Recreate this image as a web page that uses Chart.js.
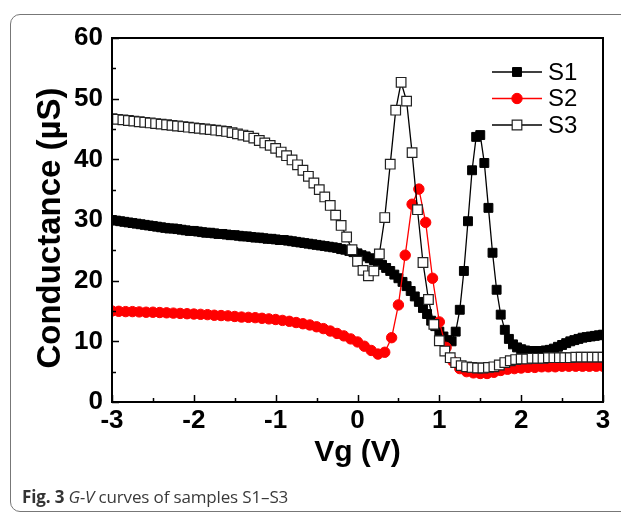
<!DOCTYPE html>
<html>
<head>
<meta charset="utf-8">
<title>G-V curves</title>
<script src="https://cdn.jsdelivr.net/npm/chart.js@4.4.1/dist/chart.umd.min.js"></script>
<style>
  html, body { margin: 0; padding: 0; background: #fff; }
  body { width: 621px; height: 515px; position: relative; overflow: hidden; }
  #frame {
    position: absolute; left: 10px; top: 14px; width: 700px; height: 498px;
    border: 1px solid #777; border-radius: 10px; box-sizing: border-box;
  }
  #chart { position: absolute; left: 0; top: 0; }
  #caption {
    position: absolute; left: 22px; top: 485px; white-space: nowrap;
    font-family: "Open Sans", "Noto Sans", sans-serif; font-size: 17px;
    letter-spacing: -0.15px; color: #3a3a3a;
  }
  #caption b { color: #333; }
</style>
</head>
<body>
<div id="frame"></div>
<canvas id="chart" width="621" height="515"></canvas>
<div id="caption"><b>Fig. 3</b> <i>G-V</i> curves of samples S1–S3</div>

<script>
// Gate voltage sweeps (V) and conductance (µS)
const vgS1 = [-3, -2.95, -2.9, -2.85, -2.8, -2.75, -2.7, -2.65, -2.6, -2.55,
  -2.5, -2.45, -2.4, -2.35, -2.3, -2.25, -2.2, -2.15, -2.1, -2.05,
  -2, -1.95, -1.9, -1.85, -1.8, -1.75, -1.7, -1.65, -1.6, -1.55,
  -1.5, -1.45, -1.4, -1.35, -1.3, -1.25, -1.2, -1.15, -1.1, -1.05,
  -1, -0.95, -0.9, -0.85, -0.8, -0.75, -0.7, -0.65, -0.6, -0.55,
  -0.5, -0.45, -0.4, -0.35, -0.3, -0.25, -0.2, -0.15, -0.1, -0.05,
  0, 0.05, 0.1, 0.15, 0.2, 0.25, 0.3, 0.35, 0.4, 0.45,
  0.5, 0.55, 0.6, 0.65, 0.7, 0.75, 0.8, 0.85, 0.9, 0.95,
  1, 1.05, 1.1, 1.15, 1.2, 1.25, 1.3, 1.35, 1.4, 1.45,
  1.5, 1.55, 1.6, 1.65, 1.7, 1.75, 1.8, 1.85, 1.9, 1.95,
  2, 2.05, 2.1, 2.15, 2.2, 2.25, 2.3, 2.35, 2.4, 2.45,
  2.5, 2.55, 2.6, 2.65, 2.7, 2.75, 2.8, 2.85, 2.9, 2.95,
  3];
const gS1 = [30.0, 29.9, 29.8, 29.7, 29.6, 29.5, 29.4, 29.3, 29.2, 29.1,
  29.0, 28.9, 28.8, 28.7, 28.6, 28.6, 28.5, 28.4, 28.3, 28.2,
  28.2, 28.1, 28.0, 27.9, 27.9, 27.8, 27.7, 27.7, 27.6, 27.5,
  27.5, 27.4, 27.3, 27.3, 27.2, 27.1, 27.1, 27.0, 26.9, 26.9,
  26.8, 26.7, 26.7, 26.6, 26.5, 26.4, 26.3, 26.2, 26.1, 26.0,
  25.9, 25.8, 25.7, 25.6, 25.5, 25.4, 25.2, 25.1, 24.9, 24.7,
  24.5, 24.2, 24.0, 23.7, 23.4, 23.0, 22.6, 22.1, 21.6, 21.0,
  20.4, 19.8, 19.1, 18.3, 17.4, 16.5, 15.5, 14.5, 13.4, 12.5,
  11.6, 10.8, 10.2, 10.0, 11.6, 15.2, 21.6, 29.8, 38.2, 43.7,
  44.0, 39.4, 32.0, 24.6, 18.5, 14.4, 11.9, 10.4, 9.5, 9.0,
  8.7, 8.5, 8.4, 8.4, 8.4, 8.4, 8.5, 8.6, 8.8, 9.1,
  9.4, 9.7, 10.0, 10.2, 10.4, 10.6, 10.7, 10.8, 10.9, 11.0,
  11.1];

const vgS2 = [-3, -2.917, -2.833, -2.75, -2.667, -2.583, -2.5, -2.417, -2.333, -2.25,
  -2.167, -2.083, -2, -1.917, -1.833, -1.75, -1.667, -1.583, -1.5, -1.417,
  -1.333, -1.25, -1.167, -1.083, -1, -0.917, -0.833, -0.75, -0.667, -0.583,
  -0.5, -0.417, -0.333, -0.25, -0.167, -0.083, 0, 0.083, 0.167, 0.25,
  0.333, 0.417, 0.5, 0.583, 0.667, 0.75, 0.833, 0.917, 1, 1.083,
  1.167, 1.25, 1.333, 1.417, 1.5, 1.583, 1.667, 1.75, 1.833, 1.917,
  2, 2.083, 2.167, 2.25, 2.333, 2.417, 2.5, 2.583, 2.667, 2.75,
  2.833, 2.917, 3];
const gS2 = [15.0, 14.95, 14.9, 14.9, 14.85, 14.8, 14.8, 14.75, 14.7, 14.65,
  14.6, 14.55, 14.5, 14.45, 14.4, 14.3, 14.25, 14.2, 14.1, 14.0,
  13.95, 13.9, 13.8, 13.7, 13.6, 13.45, 13.3, 13.1, 12.9, 12.7,
  12.4, 12.1, 11.7, 11.3, 10.9, 10.4, 9.9, 9.2, 8.5, 7.9,
  8.2, 10.6, 16.0, 24.2, 32.6, 35.1, 29.6, 20.4, 13.2, 9.0,
  6.7, 5.5, 5.0, 4.8, 4.7, 4.7, 4.9, 5.2, 5.4, 5.5,
  5.6, 5.7, 5.7, 5.8, 5.8, 5.8, 5.9, 5.9, 5.9, 5.9,
  5.9, 5.9, 5.9];

const vgS3 = [-3, -2.933, -2.867, -2.8, -2.733, -2.667, -2.6, -2.533, -2.467, -2.4,
  -2.333, -2.267, -2.2, -2.133, -2.067, -2, -1.933, -1.867, -1.8, -1.733,
  -1.667, -1.6, -1.533, -1.467, -1.4, -1.333, -1.267, -1.2, -1.133, -1.067,
  -1, -0.933, -0.867, -0.8, -0.733, -0.667, -0.6, -0.533, -0.467, -0.4,
  -0.333, -0.267, -0.2, -0.133, -0.067, 0, 0.067, 0.133, 0.2, 0.267,
  0.333, 0.4, 0.467, 0.533, 0.6, 0.667, 0.733, 0.8, 0.867, 0.933,
  1, 1.067, 1.133, 1.2, 1.267, 1.333, 1.4, 1.467, 1.533, 1.6,
  1.667, 1.733, 1.8, 1.867, 1.933, 2, 2.067, 2.133, 2.2, 2.267,
  2.333, 2.4, 2.467, 2.533, 2.6, 2.667, 2.733, 2.8, 2.867, 2.933,
  3];
const gS3 = [46.7, 46.6, 46.5, 46.4, 46.3, 46.2, 46.1, 46.0, 45.9, 45.8,
  45.7, 45.6, 45.5, 45.4, 45.3, 45.2, 45.1, 45.0, 44.9, 44.8,
  44.7, 44.6, 44.4, 44.2, 44.0, 43.8, 43.5, 43.1, 42.7, 42.3,
  41.8, 41.2, 40.6, 39.9, 39.1, 38.2, 37.2, 36.1, 35.0, 33.8,
  32.4, 30.8, 29.1, 27.2, 25.1, 23.2, 21.7, 20.8, 21.6, 24.4,
  30.4, 39.2, 48.1, 52.7, 49.6, 41.1, 31.7, 23.0, 16.9, 12.8,
  10.1, 8.4, 7.3, 6.5, 6.0, 5.8, 5.7, 5.6, 5.6, 5.7,
  5.8, 6.1, 6.5, 6.8, 7.0, 7.1, 7.1, 7.2, 7.2, 7.2,
  7.3, 7.3, 7.3, 7.3, 7.3, 7.4, 7.4, 7.4, 7.4, 7.4,
  7.4];

const seriesNames = ['S1', 'S2', 'S3'];
const xTitle = 'Vg (V)';
const yTitle = 'Conductance (µS)';

function toPoints(xs, ys) {
    return xs.map((v, i) => ({ x: v, y: ys[i] }));
}

const FONT = '"Liberation Sans", Arial, Helvetica, sans-serif';

// draw one marker the same way Chart.js does for 'rect' / 'circle'
function drawMarker(ctx, ds, x, y) {
    const r = ds.pointRadius;
    ctx.save();
    ctx.fillStyle = ds.pointBackgroundColor;
    ctx.strokeStyle = ds.pointBorderColor;
    ctx.lineWidth = ds.pointBorderWidth;
    ctx.beginPath();
    if (ds.pointStyle === 'circle') {
        ctx.arc(x, y, r, 0, Math.PI * 2);
    } else {
        const s = Math.SQRT1_2 * r;
        ctx.rect(x - s, y - s, 2 * s, 2 * s);
    }
    ctx.fill();
    ctx.stroke();
    ctx.restore();
}

// box around the plot + inward ticks (major and minor)
const axisBox = {
    id: 'axisBox',
    afterDatasetsDraw(chart) {
        const { ctx, chartArea: a, scales: { x, y } } = chart;
        ctx.save();
        ctx.strokeStyle = '#000';
        ctx.lineWidth = 1.5;
        ctx.beginPath();
        for (let i = 0; i <= 12; i++) {
            const py = Math.round(y.getPixelForValue(i * 5)) + 0.5;
            const len = i % 2 === 0 ? 7 : 4;
            ctx.moveTo(a.left, py);
            ctx.lineTo(a.left + len, py);
        }
        for (let i = 0; i <= 12; i++) {
            const px = Math.round(x.getPixelForValue(-3 + i * 0.5)) + 0.5;
            const len = i % 2 === 0 ? 7 : 4;
            ctx.moveTo(px, a.bottom);
            ctx.lineTo(px, a.bottom - len);
        }
        ctx.stroke();
        ctx.lineWidth = 2;
        ctx.strokeRect(a.left, a.top, a.right - a.left, a.bottom - a.top);
        ctx.restore();
    }
};

// y axis title, drawn by hand so it can sit a bit below the axis middle
const yAxisTitle = {
    id: 'yAxisTitle',
    afterDraw(chart) {
        const ctx = chart.ctx;
        ctx.save();
        ctx.translate(51, 228);
        ctx.rotate(-Math.PI / 2);
        ctx.fillStyle = '#000';
        ctx.font = 'bold 33px ' + FONT;
        ctx.textAlign = 'center';
        ctx.textBaseline = 'middle';
        ctx.fillText(yTitle, 0, 0);
        ctx.restore();
    }
};

// legend: short line with the marker in the middle, then the label
const lineLegend = {
    id: 'lineLegend',
    afterDraw(chart) {
        const ctx = chart.ctx;
        const x0 = 492, x1 = 542, yStart = 72, gap = 26.5;
        chart.data.datasets.forEach((ds, i) => {
            const yy = yStart + i * gap;
            ctx.save();
            ctx.strokeStyle = ds.borderColor;
            ctx.lineWidth = 1.6;
            ctx.beginPath();
            ctx.moveTo(x0, yy);
            ctx.lineTo(x1, yy);
            ctx.stroke();
            ctx.restore();
            drawMarker(ctx, ds, (x0 + x1) / 2, yy);
            ctx.save();
            ctx.fillStyle = '#000';
            ctx.font = '24px ' + FONT;
            ctx.textBaseline = 'middle';
            ctx.fillText(ds.label, 548, yy + 1);
            ctx.restore();
        });
    }
};

const ctx = document.getElementById('chart').getContext('2d');

new Chart(ctx, {
    type: 'line',
    data: {
        datasets: [{
            label: seriesNames[0],
            data: toPoints(vgS1, gS1),
            borderColor: '#000',
            borderWidth: 1.3,
            pointStyle: 'rect',
            pointRadius: 6.3,
            pointBackgroundColor: '#000',
            pointBorderColor: '#000',
            pointBorderWidth: 1,
            order: 3
        }, {
            label: seriesNames[1],
            data: toPoints(vgS2, gS2),
            borderColor: '#ff0000',
            borderWidth: 1.3,
            pointStyle: 'circle',
            pointRadius: 5.2,
            pointBackgroundColor: '#ff0000',
            pointBorderColor: '#ff0000',
            pointBorderWidth: 1,
            order: 2
        }, {
            label: seriesNames[2],
            data: toPoints(vgS3, gS3),
            borderColor: '#000',
            borderWidth: 1.3,
            pointStyle: 'rect',
            pointRadius: 6.8,
            pointBackgroundColor: '#fff',
            pointBorderColor: '#222',
            pointBorderWidth: 1.2,
            order: 1
        }]
    },
    options: {
        responsive: false,
        animation: false,
        devicePixelRatio: 1,
        layout: { padding: { left: 0, top: 38, right: 18, bottom: 33 } },
        plugins: {
            legend: { display: false },
            tooltip: { enabled: false }
        },
        elements: { line: { tension: 0 } },
        scales: {
            x: {
                type: 'linear',
                min: -3,
                max: 3,
                grid: { display: false, drawTicks: false },
                border: { display: false },
                ticks: {
                    stepSize: 1,
                    padding: 3,
                    color: '#000',
                    font: { family: FONT, size: 26, weight: 'bold' }
                },
                title: {
                    display: true,
                    text: xTitle,
                    color: '#000',
                    padding: { top: 0, bottom: 14 },
                    font: { family: FONT, size: 30, weight: 'bold', lineHeight: 1 }
                },
                afterFit: function(scale) { scale.height = 80; }
            },
            y: {
                min: 0,
                max: 60,
                grid: { display: false, drawTicks: false },
                border: { display: false },
                ticks: {
                    stepSize: 10,
                    padding: 9,
                    color: '#000',
                    font: { family: FONT, size: 26, weight: 'bold' }
                },
                title: { display: false },
                afterFit: function(scale) { scale.width = 112; }
            }
        }
    },
    plugins: [axisBox, yAxisTitle, lineLegend]
});
</script>
</body>
</html>
